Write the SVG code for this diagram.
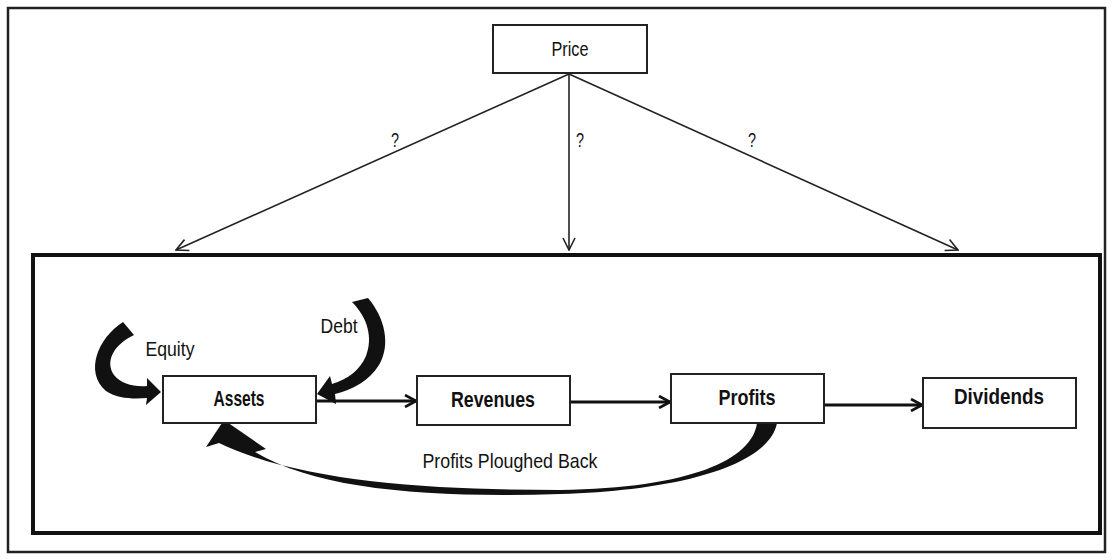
<svg xmlns="http://www.w3.org/2000/svg" width="1112" height="560" viewBox="0 0 1112 560">
<defs>
<style>
.frame{fill:none;stroke:#222;stroke-width:2.5}
.inner{fill:none;stroke:#111;stroke-width:4}
.box{fill:#fff;stroke:#222;stroke-width:2}
.t{font-family:"Liberation Sans",Arial,sans-serif;fill:#111;text-anchor:middle}
.b{font-weight:bold;font-size:22px}
.r{font-size:21px}
.thin{fill:none;stroke:#222;stroke-width:1.6}
.mid{fill:none;stroke:#111;stroke-width:3}
.band{fill:#111;stroke:none}
</style>
<marker id="vthin" viewBox="0 0 14 14" refX="13" refY="7" markerWidth="14" markerHeight="14" markerUnits="userSpaceOnUse" orient="auto">
<path d="M1,1 L13,7 L1,13" fill="none" stroke="#222" stroke-width="1.6"/>
</marker>
<marker id="vmid" viewBox="0 0 14 14" refX="12" refY="7" markerWidth="14" markerHeight="14" markerUnits="userSpaceOnUse" orient="auto">
<path d="M1,1 L12,7 L1,13" fill="none" stroke="#111" stroke-width="2.6"/>
</marker>
</defs>
<rect x="0" y="0" width="1112" height="560" fill="#fff"/>
<rect class="frame" x="8" y="8" width="1097" height="544"/>
<rect class="inner" x="33" y="255" width="1067" height="278"/>

<g id="connectors">
<line class="thin" x1="569" y1="74" x2="176" y2="250" marker-end="url(#vthin)"/>
<line class="thin" x1="569" y1="74" x2="569" y2="250" marker-end="url(#vthin)"/>
<line class="thin" x1="569" y1="74" x2="958" y2="250" marker-end="url(#vthin)"/>
<text class="t r" x="395" y="147" textLength="8" lengthAdjust="spacingAndGlyphs">?</text>
<text class="t r" x="580" y="147" textLength="8" lengthAdjust="spacingAndGlyphs">?</text>
<text class="t r" x="752" y="147" textLength="8" lengthAdjust="spacingAndGlyphs">?</text>
<line class="mid" x1="316" y1="401" x2="416" y2="401" marker-end="url(#vmid)"/>
<line class="mid" x1="570" y1="402" x2="670" y2="402" marker-end="url(#vmid)"/>
<line class="mid" x1="824" y1="405" x2="922" y2="405" marker-end="url(#vmid)"/>
<path id="equity-arrow" class="band" d="M123,322 C98,338 84,372 106,391 C118,399 134,399 147,398 L146,405 L161,392 L147,378 L147,386 C134,387 121,384 114,375 C105,362 113,345 134,335 Z"/>
<text class="t r" x="170" y="356" textLength="49" lengthAdjust="spacingAndGlyphs">Equity</text>
<path id="debt-arrow" class="band" d="M368,298 C385,318 391,345 379,365 C369,381 352,390 335,394 L336,404 L317,394 L330,376 L332,384 C348,379 360,370 366,356 C373,338 368,318 352,302 Z"/>
<text class="t r" x="339" y="333" textLength="37" lengthAdjust="spacingAndGlyphs">Debt</text>
<path id="ploughed-arrow" class="band" d="M777,423 C770,462 690,490 560,494 C430,498 318,490 255,452 L266,449 L224,420 L206,447 L219,443 C300,482 430,490 560,490 C690,488 752,460 757,423 Z"/>
<text class="t r" x="510" y="468" textLength="175" lengthAdjust="spacingAndGlyphs">Profits Ploughed Back</text>
</g>

<g id="price"><rect class="box" x="493" y="25" width="154" height="48"/><text class="t r" x="570" y="56" textLength="37" lengthAdjust="spacingAndGlyphs">Price</text></g>
<g id="assets"><rect class="box" x="163" y="376" width="153" height="47"/><text class="t b" x="239" y="406" textLength="51" lengthAdjust="spacingAndGlyphs">Assets</text></g>
<g id="revenues"><rect class="box" x="417" y="376" width="153" height="49"/><text class="t b" x="493" y="407" textLength="84" lengthAdjust="spacingAndGlyphs">Revenues</text></g>
<g id="profits"><rect class="box" x="671" y="374" width="153" height="49"/><text class="t b" x="747" y="405" textLength="57" lengthAdjust="spacingAndGlyphs">Profits</text></g>
<g id="dividends"><rect class="box" x="923" y="378" width="153" height="50"/><text class="t b" x="999" y="404" textLength="90" lengthAdjust="spacingAndGlyphs">Dividends</text></g>
</svg>
